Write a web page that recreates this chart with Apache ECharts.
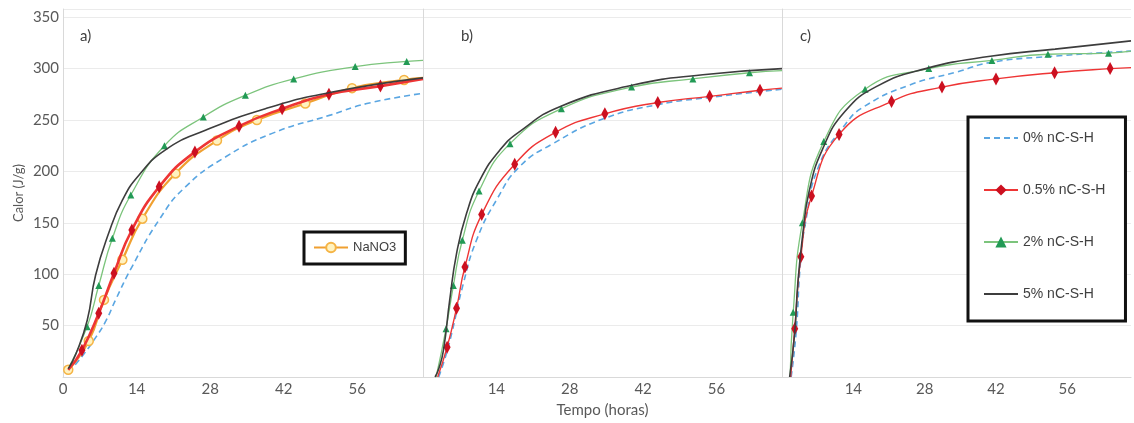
<!DOCTYPE html>
<html>
<head>
<meta charset="utf-8">
<script src="https://cdn.jsdelivr.net/npm/echarts@6/dist/echarts.min.js"></script>
<style>
html, body { margin: 0; padding: 0; background: #fff; }
#chart { width: 1134px; height: 423px; }
</style>
</head>
<body>
<div id="chart"></div>
<script>
// tick labels
const xTicks = [0, 14, 28, 42, 56];
const yTicks = [0, 50, 100, 150, 200, 250, 300, 350];

// a) [tempo (h), calor (J/g)]
const a_0pct = [[1,5],[3,16],[6.3,39],[8.2,55],[10,75],[13.1,107],[18.3,153],[23.3,185],[30.9,214],[39.8,237],[51,255],[57.8,266],[68.5,276]];
const a_05pct = [[1,7],[3.6,26],[6.8,62],[9.7,101],[13.1,143],[18.3,185],[25.1,219],[33.5,244],[41.7,261],[50.6,275],[60.4,283],[68.5,290]];
const a_2pct = [[1,8],[4.6,49],[6.8,89],[9.4,135],[12.9,177],[19.3,225],[26.7,253],[34.7,274],[43.9,290],[55.6,302],[65.4,307],[68.5,308]];
const a_5pct = [[1,8],[2.5,23],[4.6,55],[6.2,99],[8.7,140],[11.3,172],[14.4,196],[19.5,221],[27.1,240],[38.5,261],[51,277],[68.5,291]];
const a_nano3 = [[1,7],[4.9,35],[7.8,75],[11.3,114],[15.1,154],[21.4,198],[29.3,230],[36.9,250],[46.1,266],[55,281],[64.9,289],[68.5,291]];

// b)
const b_0pct = [[3.0,0],[4.3,20],[5.5,43],[7.7,91],[10.2,133],[14,172],[18.5,205],[24.8,227],[34.3,251],[44.8,265],[54.7,272],[68.5,280]];
const b_05pct = [[2.8,0],[4.6,29],[6.4,67],[8,107],[11.2,158],[17.5,207],[25.3,238],[34.7,256],[44.8,267],[54.7,273],[64.3,279],[68.5,281]];
const b_2pct = [[2.5,0],[4.4,47],[5.8,89],[7.5,133],[10.7,181],[16.6,227],[26.4,261],[39.8,282],[51.5,290],[62.3,296],[68.5,298]];
const b_5pct = [[2.3,0],[3.0,8],[3.9,26],[5.1,75],[6.4,120],[8.3,159],[10.9,192],[14.7,221],[18.5,239],[26.1,263],[40.1,284],[53.4,294],[68.5,300]];

// c)
const c_0pct = [[1.8,0],[2.8,45],[3.6,110],[4.6,150],[7.2,205],[12.3,245],[16.1,263],[25,284],[34.5,297],[40.9,306],[53,312],[68.5,317]];
const c_05pct = [[1.7,0],[2.5,47],[3.7,117],[5.8,176],[11.2,236],[21.5,268],[31.4,282],[42,290],[53.5,296],[64.4,300],[68.5,301]];
const c_2pct = [[1.6,0],[2.2,63],[4.0,150],[8.2,229],[16.3,280],[28.8,300],[41.2,308],[52.2,314],[64.1,315],[68.5,317]];
const c_5pct = [[1.5,0],[2.5,43],[3.1,91],[4.1,140],[5.3,180],[7.9,221],[12.3,258],[18.7,283],[28.2,300],[40.9,312],[53.6,319],[68.5,327]];

const names = ['0% nC-S-H', '0.5% nC-S-H', '2% nC-S-H', '5% nC-S-H'];

const myChart = echarts.init(document.getElementById('chart'));

// first/last point without marker
const marked = (arr, keepFirst) => arr.map((p, i) =>
    ((i === 0 && !keepFirst) || i === arr.length - 1) ? { value: p, symbol: 'none' } : p);

const lineBase = { type: 'line', smooth: 0.5, animation: false };

const s0 = (data, k) => Object.assign({}, lineBase, {
    name: names[0], xAxisIndex: k, yAxisIndex: k, data: data, showSymbol: false, z: 2,
    lineStyle: { color: '#5aa6e2', width: 1.6, type: [6, 4] },
    itemStyle: { color: '#5aa6e2' }
});
const s05 = (data, k, w) => Object.assign({}, lineBase, {
    name: names[1], xAxisIndex: k, yAxisIndex: k, data: marked(data),
    symbol: 'diamond', symbolSize: [7, 13], z: 4,
    lineStyle: { color: '#ee3535', width: w },
    itemStyle: { color: '#cc1020' }
});
const s2 = (data, k) => Object.assign({}, lineBase, {
    name: names[2], xAxisIndex: k, yAxisIndex: k, data: marked(data),
    symbol: 'triangle', symbolSize: 7, z: 3,
    lineStyle: { color: '#7cc47c', width: 1.3 },
    itemStyle: { color: '#229a55' }
});
const s5 = (data, k) => Object.assign({}, lineBase, {
    name: names[3], xAxisIndex: k, yAxisIndex: k, data: data, showSymbol: false, z: 5,
    lineStyle: { color: '#3d3d3d', width: 1.6 },
    itemStyle: { color: '#3d3d3d' }
});

const labelFont = { color: '#595959', fontSize: 15, fontFamily: 'Lato' };

const xAxisOf = (k, showZero) => ({
    type: 'value', gridIndex: k, min: 0, max: 68.5, interval: 14,
    axisLine: { show: true, lineStyle: { color: '#d9d9d9' } },
    axisTick: { show: false },
    splitLine: { show: false },
    axisLabel: Object.assign({
        margin: 5,
        formatter: v => (xTicks.includes(v) && (showZero || v !== 0)) ? String(v) : ''
    }, labelFont)
});
const yAxisOf = (k, showLabels) => ({
    type: 'value', gridIndex: k, min: 0, max: 358, interval: 50,
    axisLine: { show: true, lineStyle: { color: '#d9d9d9' } },
    axisTick: { show: false },
    splitLine: { show: true, lineStyle: { color: '#ebebeb' } },
    axisLabel: Object.assign({
        show: showLabels, margin: 4,
        formatter: v => (yTicks.includes(v) && v !== 0) ? String(v) : ''
    }, labelFont)
});

const xAxes = [xAxisOf(0, true), xAxisOf(1, false), xAxisOf(2, false)];
xAxes[1].name = 'Tempo (horas)';
xAxes[1].nameLocation = 'middle';
xAxes[1].nameGap = 26;
xAxes[1].nameTextStyle = { color: '#595959', fontSize: 15, fontFamily: 'Lato' };

const yAxes = [yAxisOf(0, true), yAxisOf(1, false), yAxisOf(2, false)];
yAxes[0].name = 'Calor (J/g)';
yAxes[0].nameLocation = 'middle';
yAxes[0].nameGap = 38;
yAxes[0].nameTextStyle = { color: '#595959', fontSize: 13, fontFamily: 'Lato' };

const panelTitle = (txt, x) => ({
    text: txt, left: x, top: 24,
    textStyle: { color: '#404040', fontSize: 15, fontWeight: 'normal', fontFamily: 'Lato' }
});

const option = {
    backgroundColor: '#fff',
    animation: false,
    title: [panelTitle('a)', 75), panelTitle('b)', 456), panelTitle('c)', 795)],
    grid: [
        { left: 63, top: 9, width: 360, height: 368 },
        { left: 423, top: 9, width: 359, height: 368 },
        { left: 782, top: 9, width: 360, height: 368 }
    ],
    xAxis: xAxes,
    yAxis: yAxes,
    legend: [
        {
            data: ['NaNO3'], left: 304, top: 232, orient: 'vertical',
            padding: [9, 9, 10, 9], borderWidth: 3, borderColor: '#111', backgroundColor: '#fff',
            itemWidth: 34, itemHeight: 12,
            textStyle: { color: '#404040', fontSize: 13, fontFamily: 'Liberation Sans' }
        },
        {
            data: [
                { name: names[0], itemStyle: { opacity: 0 } },
                { name: names[1] },
                { name: names[2] },
                { name: names[3], itemStyle: { opacity: 0 } }
            ],
            left: 968, top: 117, orient: 'vertical',
            padding: [14, 20, 20, 15], itemGap: 38,
            borderWidth: 3, borderColor: '#111', backgroundColor: '#fff',
            itemWidth: 34, itemHeight: 14,
            textStyle: { color: '#404040', fontSize: 14, fontFamily: 'Liberation Sans' }
        }
    ],
    series: [
        s0(a_0pct, 0),
        Object.assign({}, lineBase, {
            name: 'NaNO3', xAxisIndex: 0, yAxisIndex: 0, data: marked(a_nano3, true),
            symbol: 'circle', symbolSize: 9, z: 3,
            lineStyle: { color: '#f0a030', width: 2.2 },
            itemStyle: { color: '#fff2c0', borderColor: '#f5b445', borderWidth: 1.5 }
        }),
        s2(a_2pct, 0),
        s05(a_05pct, 0, 2.6),
        s5(a_5pct, 0),

        s0(b_0pct, 1),
        s2(b_2pct, 1),
        s05(b_05pct, 1, 1.4),
        s5(b_5pct, 1),

        s0(c_0pct, 2),
        s2(c_2pct, 2),
        s05(c_05pct, 2, 1.4),
        s5(c_5pct, 2)
    ]
};

myChart.setOption(option);
window.addEventListener('resize', () => { myChart.resize(); });
</script>
</body>
</html>
